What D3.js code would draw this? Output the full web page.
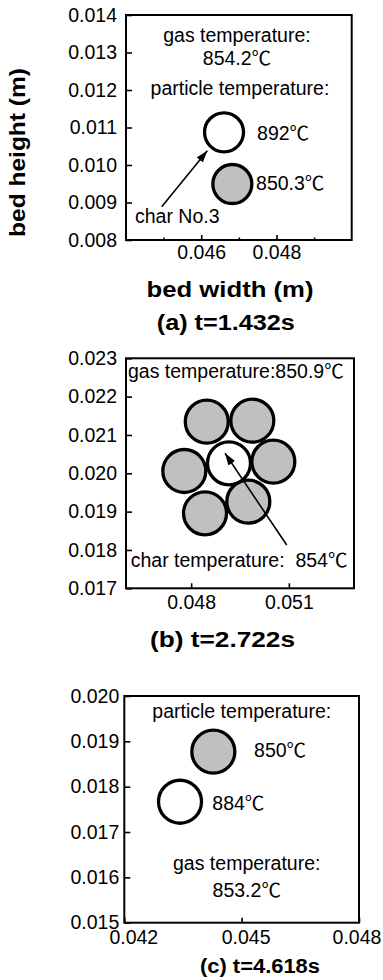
<!DOCTYPE html>
<html><head><meta charset="utf-8">
<script src="https://cdn.jsdelivr.net/npm/d3@7"></script>
<style>
body{margin:0;background:#fff}
text{font-family:"Liberation Sans",Arial,"Noto Sans CJK SC",sans-serif;fill:#000}
</style>
</head><body>
<svg id="chart" width="383" height="980"></svg>
<script>
// ---------------- data ----------------
// panel (a) t=1.432s
const xDomainA = [0.044, 0.050];
const yDomainA = [0.008, 0.014];
const xTicksA = [0.046, 0.048];
const xMinorTicksA = [0.045, 0.047, 0.049];
const yTicksA = [0.008, 0.009, 0.010, 0.011, 0.012, 0.013, 0.014];
const particlesA = [
  {x: 0.046606, y: 0.010872, isChar: true},
  {x: 0.046827, y: 0.009493, isChar: false}
];
const notesA = [
  {text: "gas temperature:", x: 0.04695, y: 0.01328, anchor: "middle"},
  {text: "854.2℃", x: 0.04695, y: 0.012667, anchor: "middle"},
  {text: "particle temperature:", x: 0.04703, y: 0.011867, anchor: "middle"},
  {text: "892℃", x: 0.047484, y: 0.010667, anchor: "start"},
  {text: "850.3℃", x: 0.047457, y: 0.009333, anchor: "start"},
  {text: "char No.3", x: 0.04424, y: 0.008453, anchor: "start"}
];
const arrowA = {x1: 0.04495, y1: 0.008888, x2: 0.046162, y2: 0.010381};

// panel (b) t=2.722s
const xDomainB = [0.046, 0.053];
const yDomainB = [0.017, 0.023];
const xTicksB = [0.048, 0.051];
const yTicksB = [0.017, 0.018, 0.019, 0.020, 0.021, 0.022, 0.023];
const particlesB = [
  {x: 0.04848, y: 0.021346, isChar: false},
  {x: 0.049878, y: 0.021372, isChar: false},
  {x: 0.04779, y: 0.02006, isChar: false},
  {x: 0.050523, y: 0.020302, isChar: false},
  {x: 0.048426, y: 0.018956, isChar: false},
  {x: 0.049755, y: 0.019259, isChar: false},
  {x: 0.049162, y: 0.02026, isChar: true}
];
const notesB = [
  {text: "gas temperature:850.9℃", x: 0.04606, y: 0.022486, anchor: "start"},
  {text: "char temperature:  854℃", x: 0.046144, y: 0.017555, anchor: "start"}
];
const arrowB = {x1: 0.050934, y1: 0.018129, x2: 0.04904, y2: 0.020522};

// panel (c) t=4.618s
const xDomainC = [0.042, 0.048];
const yDomainC = [0.015, 0.020];
const xTicksC = [0.042, 0.045, 0.048];
const yTicksC = [0.015, 0.016, 0.017, 0.018, 0.019, 0.020];
const particlesC = [
  {x: 0.044276, y: 0.018771, isChar: false},
  {x: 0.043424, y: 0.017668, isChar: true}
];
const notesC = [
  {text: "particle temperature:", x: 0.045003, y: 0.019515, anchor: "middle"},
  {text: "850℃", x: 0.045317, y: 0.018661, anchor: "start"},
  {text: "884℃", x: 0.04425, y: 0.017485, anchor: "start"},
  {text: "gas temperature:", x: 0.04513, y: 0.016161, anchor: "middle"},
  {text: "853.2℃", x: 0.04513, y: 0.015572, anchor: "middle"}
];

// ---------------- drawing ----------------
const svg = d3.select("#chart");
const defs = svg.append("defs");
defs.append("marker").attr("id","ah").attr("viewBox","0 0 12 8")
  .attr("refX",12).attr("refY",4).attr("markerWidth",12).attr("markerHeight",8)
  .attr("markerUnits","userSpaceOnUse").attr("orient","auto")
  .append("path").attr("d","M0,0 L12,4 L0,8 Z").attr("fill","#000");

const fmt = d3.format(".3f");
const FS = 19.5;
const CJK = '"Noto Sans CJK SC","Noto Sans CJK JP",sans-serif';

function writeText(sel, str) {
  const parts = str.split("℃");
  parts.forEach((p, i) => {
    if (p.length) sel.append("tspan").text(p);
    if (i < parts.length - 1) sel.append("tspan").attr("font-family", CJK).text("℃");
  });
}

function panel(o) {
  const x = d3.scaleLinear().domain(o.xDomain).range([o.left, o.right]);
  const y = d3.scaleLinear().domain(o.yDomain).range([o.bottom, o.top]);
  const g = svg.append("g");

  const ya = g.append("g").attr("transform", `translate(${o.left},0)`)
    .call(d3.axisLeft(y).tickValues(o.yTicks).tickSize(-6).tickPadding(o.yPad).tickFormat(fmt));
  ya.select(".domain").remove();
  const xa = g.append("g").attr("transform", `translate(0,${o.bottom})`)
    .call(d3.axisBottom(x).tickValues(o.xTicks).tickSize(-5).tickPadding(o.xPad).tickFormat(fmt));
  xa.select(".domain").remove();
  if (o.xMinor) {
    const xm = g.append("g").attr("transform", `translate(0,${o.bottom})`)
      .call(d3.axisBottom(x).tickValues(o.xMinor).tickSize(-2.5).tickFormat(""));
    xm.select(".domain").remove();
  }
  g.selectAll(".tick line").attr("stroke","#000").attr("stroke-width",1.6);
  g.selectAll(".tick text").attr("font-size",FS).attr("fill","#000")
    .attr("font-family",'"Liberation Sans",Arial,sans-serif');
  if (o.xShift) xa.selectAll(".tick text").attr("dx", (d,i) => o.xShift[i]);

  g.append("rect").attr("x",o.left).attr("y",o.top)
    .attr("width",o.right-o.left).attr("height",o.bottom-o.top)
    .attr("fill","none").attr("stroke","#000").attr("stroke-width",2);

  g.selectAll("circle.p").data(o.particles).join("circle")
    .attr("class","p")
    .attr("cx",d=>x(d.x)).attr("cy",d=>y(d.y)).attr("r",o.r)
    .attr("fill",d=>d.isChar?"#ffffff":"#c0c0c0")
    .attr("stroke","#000").attr("stroke-width",3.3);

  if (o.arrow) {
    g.append("line")
      .attr("x1",x(o.arrow.x1)).attr("y1",y(o.arrow.y1))
      .attr("x2",x(o.arrow.x2)).attr("y2",y(o.arrow.y2))
      .attr("stroke","#000").attr("stroke-width",1.6)
      .attr("marker-end","url(#ah)");
  }

  g.selectAll("text.n").data(o.notes).join("text")
    .attr("class","n")
    .attr("x",d=>x(d.x)).attr("y",d=>y(d.y))
    .attr("text-anchor",d=>d.anchor)
    .attr("font-size",FS)
    .attr("xml:space","preserve")
    .style("white-space","pre")
    .each(function(d){ writeText(d3.select(this), d.text); });
  return {x, y};
}

panel({xDomain:xDomainA, yDomain:yDomainA, xTicks:xTicksA, xMinor:xMinorTicksA, yTicks:yTicksA,
  left:126, right:351.7, top:15, bottom:240, yPad:9, xPad:5, r:19.5,
  particles:particlesA, notes:notesA, arrow:arrowA});
panel({xDomain:xDomainB, yDomain:yDomainB, xTicks:xTicksB, yTicks:yTicksB,
  left:126, right:354, top:358.3, bottom:588.3, yPad:9, xPad:6.5, r:21.5,
  particles:particlesB, notes:notesB, arrow:arrowB});
panel({xDomain:xDomainC, yDomain:yDomainC, xTicks:xTicksC, yTicks:yTicksC,
  left:124.3, right:359, top:696, bottom:922.7, yPad:5, xPad:7, r:21.5, xShift:[9,4,-2.5],
  particles:particlesC, notes:notesC});

function bold(txt, cx, by, len, fs, rot) {
  const t = svg.append("text").attr("font-weight","bold").attr("font-size",fs)
    .attr("text-anchor","middle").attr("textLength",len).attr("lengthAdjust","spacingAndGlyphs")
    .text(txt);
  if (rot) t.attr("transform",`translate(${cx},${by}) rotate(-90)`);
  else t.attr("x",cx).attr("y",by);
}
bold("bed height (m)", 25, 152.5, 169, 22, true);
bold("bed width (m)", 230, 296.7, 167, 22);
bold("(a) t=1.432s", 225.8, 330, 138, 22);
bold("(b) t=2.722s", 222.5, 646.7, 145, 22);
bold("(c) t=4.618s", 260, 973.3, 120, 20);
</script>
</body></html>
